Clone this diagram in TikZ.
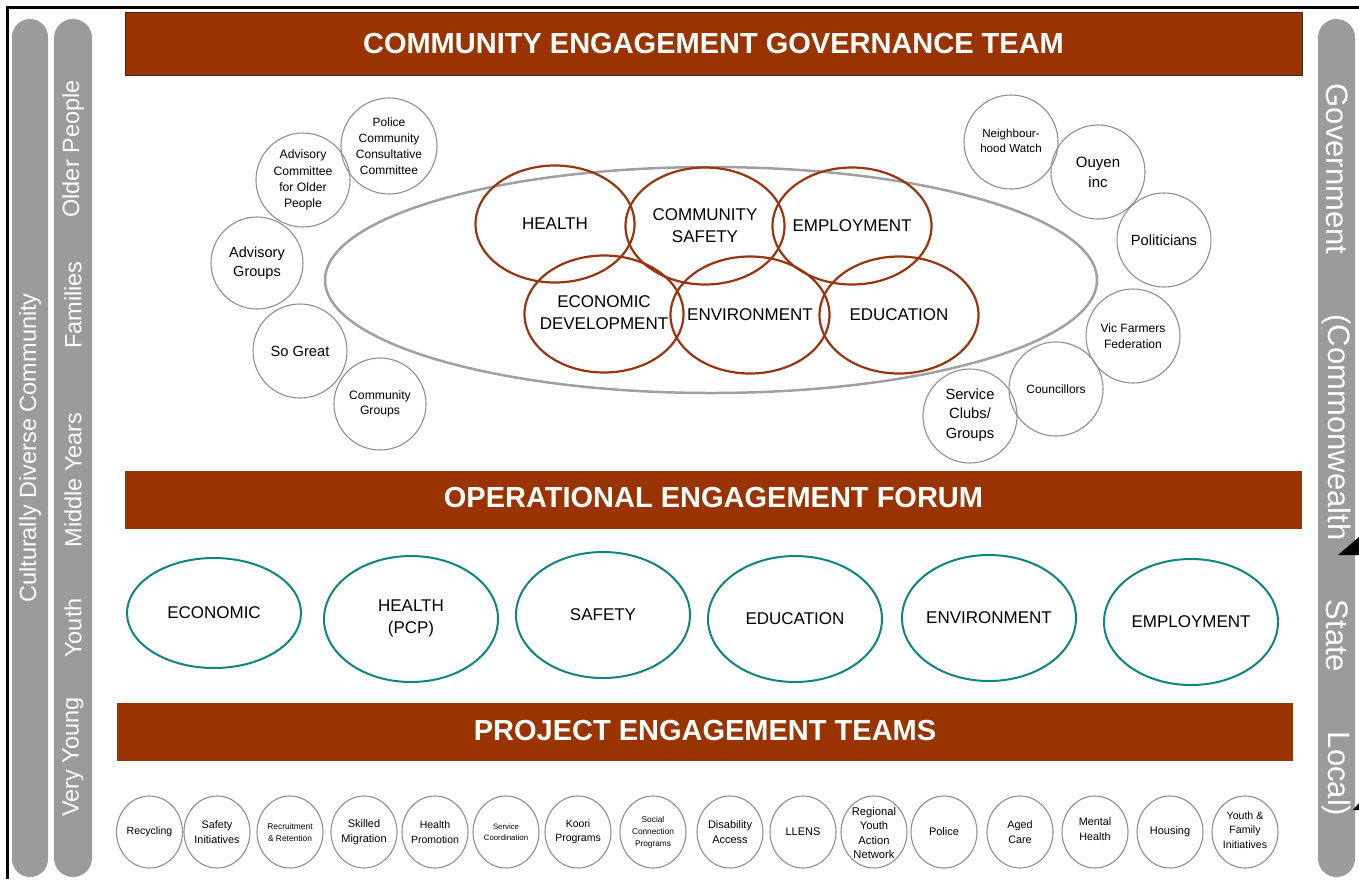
\documentclass[tikz,border=0pt]{standalone}
\usepackage{fontspec}
\setmainfont{Liberation Sans}
\usetikzlibrary{shapes.geometric}
\definecolor{banred}{HTML}{993300}
\definecolor{bandark}{HTML}{3A2A20}
\definecolor{ringred}{HTML}{9A3410}
\definecolor{tealc}{HTML}{0E8580}
\definecolor{bargray}{HTML}{9B9B9B}
\definecolor{circgray}{HTML}{8F8F8F}
\definecolor{biggray}{HTML}{A0A0A0}
\newcommand{\fsz}[2]{\fontsize{#1}{#2}\selectfont}
\begin{document}
\begin{tikzpicture}[x=1pt,y=-1pt,
 banner/.style={fill=banred, minimum width=1177pt, minimum height=58pt, inner sep=0},
 bantext/.style={text=white, font=\bfseries\fsz{29}{34}, inner sep=0},
 ring/.style={ellipse, draw=ringred, line width=2.2pt, minimum width=159pt, minimum height=117pt, inner sep=0},
 ringtext/.style={font=\fsz{17}{22}, align=center, inner sep=0},
 tealring/.style={ellipse, draw=tealc, line width=2pt, minimum width=174pt, minimum height=126pt, inner sep=0},
 member/.style={circle, draw=circgray, line width=1.1pt, minimum size=92pt, inner sep=0},
 small/.style={ellipse, draw=circgray, line width=1.1pt, minimum width=66pt, minimum height=72pt, inner sep=0},
 lab/.style={align=center, inner sep=0},
 sidebar/.style={fill=bargray, minimum height=858pt, inner sep=0},
 sidetext/.style={text=white, font=\fsz{23.5}{28}, rotate=90, inner sep=0},
 govtext/.style={text=white, font=\fsz{31}{36}, rotate=-90, inner sep=0},
]
\useasboundingbox (0,0) rectangle (1359,879);
\fill[white] (0,0) rectangle (1359,879);
% frame
\coordinate (fA) at (7.5,879);
\coordinate (fB) at (7.5,7.5);
\coordinate (fC) at (1359,7.5);
\draw[line width=3.2pt] (fA) -- (fB) -- (fC);

% side bars
\node[sidebar, minimum width=36pt, rounded corners=18pt] (bar1) at (30,448) {};
\node[sidebar, minimum width=38pt, rounded corners=19pt] (bar2) at (73,448) {};
\node[sidebar, minimum width=37pt, rounded corners=18.5pt] (bar3) at (1336.5,448) {};
\node[sidetext] (cdc) at (30,448) {Culturally Diverse Community};
\node[sidetext] (op) at (73,149) {Older People};
\node[sidetext] (fam) at (73,305) {Families};
\node[sidetext] (my) at (73,480) {Middle Years};
\node[sidetext] (yo) at (73,628) {Youth};
\node[sidetext] (vy) at (73,757) {Very Young};
\node[govtext] (g1) at (1337,169) {Government};
\node[govtext] (g2) at (1337,427.5) {(Commonwealth};
\node[govtext] (g3) at (1337,636) {State};
\node[govtext] (g4) at (1337,774) {Local)};
\fill (1338,555) -- (1359,537) -- (1359,555) -- cycle;
\fill (1353,810) -- (1359,803) -- (1359,810) -- cycle;

% banners
\node[banner, draw=bandark, line width=0.8pt, minimum height=63pt] (gov) at (713.5,43.5) {};
\node[bantext] (govt) at (713.5,43.5) {COMMUNITY ENGAGEMENT GOVERNANCE TEAM};
\node[banner] (oef) at (713.5,500) {};
\node[bantext] (ooeft) at (713.5,498) {OPERATIONAL ENGAGEMENT FORUM};
\node[banner, minimum width=1176pt] (pet) at (705,732) {};
\node[bantext] (pett) at (705,731) {PROJECT ENGAGEMENT TEAMS};

% big ellipse
\node[ellipse, draw=biggray, line width=2.5pt, minimum width=772pt, minimum height=226pt, inner sep=0] (big) at (711,280) {};

% red rings
\node[ring] (r1) at (555,224) {};
\node[ring] (r2) at (705,226) {};
\node[ring] (r3) at (852,226) {};
\node[ring] (r4) at (604,314) {};
\node[ring] (r5) at (750,315) {};
\node[ring] (r6) at (899,315) {};
\node[ringtext] (t1) at (r1) {HEALTH};
\node[ringtext] (t2) at (r2) {COMMUNITY\\SAFETY};
\node[ringtext] (t3) at (r3) {EMPLOYMENT};
\node[ringtext] (t4) at (604,313) {ECONOMIC\\DEVELOPMENT};
\node[ringtext] (t5) at (r5) {ENVIRONMENT};
\node[ringtext] (t6) at (r6) {EDUCATION};

% left members
\node[member, minimum size=96pt] (m1) at (389,146) {};
\node[lab, font=\fsz{12}{16}] (m1t) at (m1) {Police\\Community\\Consultative\\Committee};
\node[member, minimum size=94pt] (m2) at (303,180) {};
\node[lab, font=\fsz{12.2}{16.3}] (m2t) at (m2) {Advisory\\Committee\\for Older\\People};
\node[member, minimum size=92pt] (m3) at (257,263) {};
\node[lab, font=\fsz{14.5}{19}] (m3t) at (m3) {Advisory\\Groups};
\node[member, minimum size=94pt] (m4) at (300,351) {};
\node[lab, font=\fsz{14.7}{19}] (m4t) at (m4) {So Great};
\node[member, minimum size=92pt] (m5) at (380,404) {};
\node[lab, font=\fsz{12.2}{15.5}] (m5t) at (m5) {Community\\Groups};

% right members
\node[member, minimum size=94pt] (n1) at (1011,142) {};
\node[lab, font=\fsz{11.6}{15}] (n1t) at (1011,141) {Neighbour-\\hood Watch};
\node[member, minimum size=94pt] (n2) at (1098,172) {};
\node[lab, font=\fsz{15}{20}] (n2t) at (n2) {Ouyen\\inc};
\node[member, minimum size=94pt] (n3) at (1164,240) {};
\node[lab, font=\fsz{14.7}{19}] (n3t) at (n3) {Politicians};
\node[member, minimum size=94pt] (n4) at (1133,336) {};
\node[lab, font=\fsz{12.1}{16}] (n4t) at (n4) {Vic Farmers\\Federation};
\node[member, minimum size=94pt] (n5) at (1056,389) {};
\node[lab, font=\fsz{12}{15}] (n5t) at (1056,389) {Councillors};
\node[member, minimum size=94pt] (n6) at (970,416) {};
\node[lab, font=\fsz{14.7}{19.5}] (n6t) at (970,415) {Service\\Clubs/\\Groups};

% teal rings
\node[tealring, minimum height=110pt] (e1) at (214,613) {};
\node[tealring] (e2) at (411,619) {};
\node[tealring] (e3) at (603,615) {};
\node[tealring] (e4) at (795,619) {};
\node[tealring] (e5) at (989,618) {};
\node[tealring] (e6) at (1191,622) {};
\node[ringtext] (e1t) at (e1) {ECONOMIC};
\node[ringtext] (e2t) at (411,618) {HEALTH\\(PCP)};
\node[ringtext] (e3t) at (e3) {SAFETY};
\node[ringtext] (e4t) at (e4) {EDUCATION};
\node[ringtext] (e5t) at (e5) {ENVIRONMENT};
\node[ringtext] (e6t) at (e6) {EMPLOYMENT};

% project circles
\node[small] (p1) at (149.5,832) {};
\node[small] (p2) at (217,832) {};
\node[small] (p3) at (290,832) {};
\node[small] (p4) at (364,832) {};
\node[small] (p5) at (435,832) {};
\node[small] (p6) at (506,832) {};
\node[small] (p7) at (578,832) {};
\node[small] (p8) at (653,832) {};
\node[small] (p9) at (730,832) {};
\node[small] (p10) at (803,832) {};
\node[small] (p11) at (874,832) {};
\node[small] (p12) at (944,832) {};
\node[small] (p13) at (1020,832) {};
\node[small] (p14) at (1095,832) {};
\node[small] (p15) at (1170,832) {};
\node[small] (p16) at (1245,832) {};
\node[lab, font=\fsz{10.5}{14}] (p1t) at (p1) {Recycling};
\node[lab, font=\fsz{10.8}{15}] (p2t) at (p2) {Safety\\Initiatives};
\node[lab, font=\fsz{8.4}{12}] (p3t) at (p3) {Recruitment\\\& Retention};
\node[lab, font=\fsz{11}{15}] (p4t) at (p4) {Skilled\\Migration};
\node[lab, font=\fsz{10.5}{14.5}] (p5t) at (p5) {Health\\Promotion};
\node[lab, font=\fsz{7.8}{11}] (p6t) at (p6) {Service\\Coordination};
\node[lab, font=\fsz{10.5}{14.5}] (p7t) at (p7) {Koori\\Programs};
\node[lab, font=\fsz{8.3}{12}] (p8t) at (p8) {Social\\Connection\\Programs};
\node[lab, font=\fsz{11}{15}] (p9t) at (p9) {Disability\\Access};
\node[lab, font=\fsz{11}{14}] (p10t) at (p10) {LLENS};
\node[lab, font=\fsz{11.2}{14.5}] (p11t) at (874,833) {Regional\\Youth\\Action\\Network};
\node[lab, font=\fsz{11}{14}] (p12t) at (p12) {Police};
\node[lab, font=\fsz{10.8}{15}] (p13t) at (p13) {Aged\\Care};
\node[lab, font=\fsz{10.8}{15}] (p14t) at (1095,829) {Mental\\Health};
\node[lab, font=\fsz{11}{14}] (p15t) at (p15) {Housing};
\node[lab, font=\fsz{10.6}{14.5}] (p16t) at (1245,830) {Youth \&\\Family\\Initiatives};
\end{tikzpicture}
\end{document}
